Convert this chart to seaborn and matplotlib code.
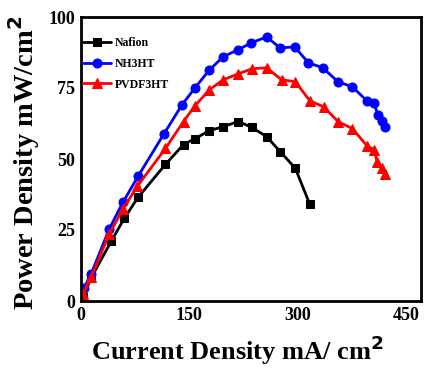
import matplotlib
matplotlib.use("Agg")
import matplotlib.pyplot as plt
import seaborn as sns
import pandas as pd
from matplotlib.ticker import MultipleLocator

# ---- data ----
current_nafion = [3, 14, 42, 60, 79, 117, 142, 158, 178, 197, 218, 237, 257, 276, 297, 317]
power_nafion = [1.5, 8.1, 21.1, 29.1, 36.5, 48.1, 55.1, 57.2, 60.0, 61.4, 63.2, 61.1, 57.9, 52.6, 46.7, 34.0]

current_nh3ht = [4, 14, 39, 58, 79, 115, 140, 158, 178, 197, 217, 236, 257, 276, 296, 315,
                 335, 356, 376, 396, 406, 411, 417, 421]
power_nh3ht = [4.5, 9.5, 25.3, 34.7, 43.9, 58.9, 69.1, 75.1, 81.4, 86.0, 88.4, 90.9, 93.0, 89.1,
               89.5, 83.9, 82.1, 77.2, 75.4, 70.5, 69.8, 65.6, 63.5, 61.4]

current_pvdf3ht = [3, 14, 39, 58, 78, 117, 142, 158, 178, 197, 218, 237, 257, 278, 297, 317,
                   336, 356, 376, 396, 406, 410, 417, 421]
power_pvdf3ht = [2.5, 8.4, 23.5, 32.3, 40.4, 53.7, 63.2, 68.8, 74.4, 77.9, 80.0, 81.8, 82.1, 77.9,
                 77.2, 70.5, 68.4, 63.2, 60.7, 54.7, 53.3, 49.1, 46.7, 44.6]

series_names = ["Nafion", "NH3HT", "PVDF3HT"]
x_ticks = [0, 150, 300, 450]
y_ticks = [0, 25, 50, 75, 100]

sns.set_style("white")
plt.rcParams["font.family"] = ["Liberation Serif", "DejaVu Serif"]
plt.rcParams["font.weight"] = "bold"
plt.rcParams["mathtext.fontset"] = "dejavusans"
for k in ["text.color", "axes.labelcolor", "xtick.color", "ytick.color", "axes.edgecolor"]:
    plt.rcParams[k] = "black"

fig = plt.figure(figsize=(4.29, 3.71), dpi=100)
ax = fig.add_axes([81 / 429, 1 - 301 / 371, (421 - 81) / 429, (301 - 17) / 371])

data = [
    (series_names[0], current_nafion, power_nafion, "black", "s", 5.5),
    (series_names[1], current_nh3ht, power_nh3ht, "#0000ff", "o", 6.5),
    (series_names[2], current_pvdf3ht, power_pvdf3ht, "#ff0000", "^", 7.0),
]
for name, xs, ys, col, mk, ms in data:
    df = pd.DataFrame({"x": xs, "y": ys})
    sns.lineplot(data=df, x="x", y="y", ax=ax, color=col, marker=mk, markersize=ms,
                 markeredgecolor=col, linewidth=2.0, label=name, sort=False)

ax.set_xlim(0, 471)
ax.set_ylim(0, 100)
ax.set_xticks(x_ticks)
ax.set_yticks(y_ticks)
ax.yaxis.set_minor_locator(MultipleLocator(12.5))
ax.tick_params(axis="x", which="both", length=0, pad=4, labelsize=13)
ax.tick_params(axis="y", which="major", direction="in", length=4, width=1.5, pad=4, labelsize=13)
ax.tick_params(axis="y", which="minor", direction="in", length=2.5, width=1.2)
for lab in ax.get_xticklabels() + ax.get_yticklabels():
    lab.set_fontweight("bold")
for sp in ax.spines.values():
    sp.set_linewidth(2.0)
    sp.set_color("black")

ax.set_xlabel(r"Current Density mA/ cm$^\mathbf{2}$", fontsize=19, fontweight="bold")
ax.set_ylabel(r"Power Density mW/cm$^\mathbf{2}$", fontsize=20.5, fontweight="bold")
ax.xaxis.set_label_coords(0.459, -0.115)
ax.yaxis.set_label_coords(-0.114, 0.486)

leg = ax.legend(loc="upper left", bbox_to_anchor=(0.005, 0.93), frameon=False,
                fontsize=8.5, handlelength=2.4, handletextpad=0.35, labelspacing=0.75,
                borderpad=0, borderaxespad=0)
for t in leg.get_texts():
    t.set_fontweight("bold")

fig.savefig("out.png", dpi=100)
